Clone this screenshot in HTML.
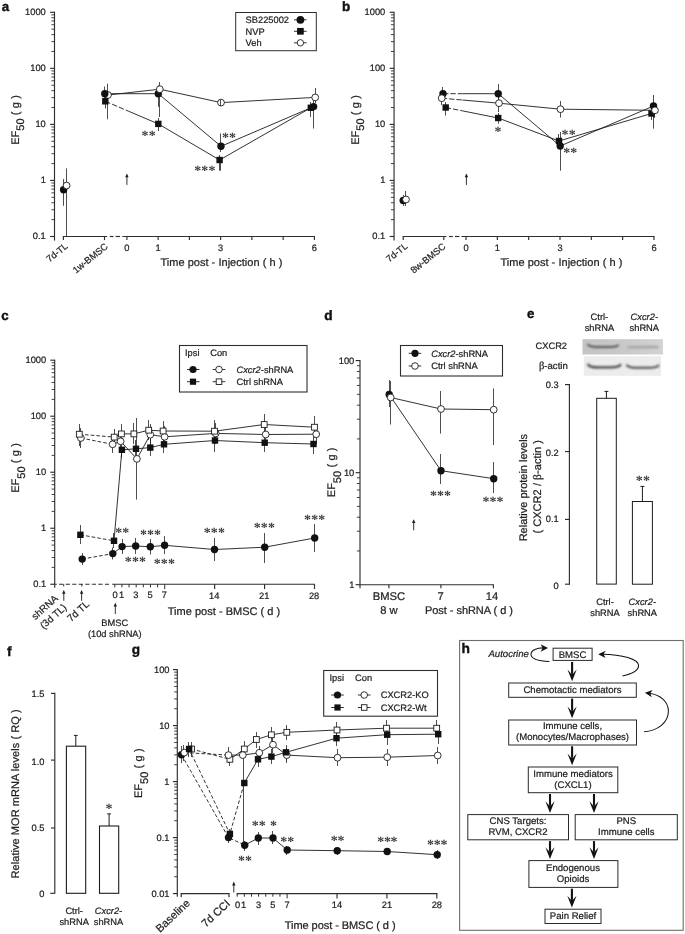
<!DOCTYPE html>
<html><head><meta charset="utf-8"><title>Figure</title>
<style>html,body{margin:0;padding:0;background:#fff}svg{display:block}text{stroke:#1e1e1e;stroke-width:.22px}</style></head>
<body>
<svg width="685" height="934" viewBox="0 0 685 934" font-family='"Liberation Sans", Arial, sans-serif' fill="#1e1e1e" text-rendering="geometricPrecision">
<line x1="54.5" y1="11.75" x2="54.5" y2="240.6" stroke="#2e2e2e" stroke-width="1.15"/>
<line x1="50.1" y1="236.5" x2="54.5" y2="236.5" stroke="#2e2e2e" stroke-width="1.15"/>
<text x="45.8" y="239.4" font-size="9.3" text-anchor="end">0.1</text>
<line x1="51.4" y1="219.63" x2="54.5" y2="219.63" stroke="#2e2e2e" stroke-width="0.9"/>
<line x1="51.4" y1="209.76" x2="54.5" y2="209.76" stroke="#2e2e2e" stroke-width="0.9"/>
<line x1="51.4" y1="202.75" x2="54.5" y2="202.75" stroke="#2e2e2e" stroke-width="0.9"/>
<line x1="51.4" y1="197.32" x2="54.5" y2="197.32" stroke="#2e2e2e" stroke-width="0.9"/>
<line x1="51.4" y1="192.88" x2="54.5" y2="192.88" stroke="#2e2e2e" stroke-width="0.9"/>
<line x1="51.4" y1="189.13" x2="54.5" y2="189.13" stroke="#2e2e2e" stroke-width="0.9"/>
<line x1="51.4" y1="185.88" x2="54.5" y2="185.88" stroke="#2e2e2e" stroke-width="0.9"/>
<line x1="51.4" y1="183.01" x2="54.5" y2="183.01" stroke="#2e2e2e" stroke-width="0.9"/>
<line x1="50.1" y1="180.45" x2="54.5" y2="180.45" stroke="#2e2e2e" stroke-width="1.15"/>
<text x="45.8" y="183.35" font-size="9.3" text-anchor="end">1</text>
<line x1="51.4" y1="163.58" x2="54.5" y2="163.58" stroke="#2e2e2e" stroke-width="0.9"/>
<line x1="51.4" y1="153.71" x2="54.5" y2="153.71" stroke="#2e2e2e" stroke-width="0.9"/>
<line x1="51.4" y1="146.7" x2="54.5" y2="146.7" stroke="#2e2e2e" stroke-width="0.9"/>
<line x1="51.4" y1="141.27" x2="54.5" y2="141.27" stroke="#2e2e2e" stroke-width="0.9"/>
<line x1="51.4" y1="136.83" x2="54.5" y2="136.83" stroke="#2e2e2e" stroke-width="0.9"/>
<line x1="51.4" y1="133.08" x2="54.5" y2="133.08" stroke="#2e2e2e" stroke-width="0.9"/>
<line x1="51.4" y1="129.83" x2="54.5" y2="129.83" stroke="#2e2e2e" stroke-width="0.9"/>
<line x1="51.4" y1="126.96" x2="54.5" y2="126.96" stroke="#2e2e2e" stroke-width="0.9"/>
<line x1="50.1" y1="124.4" x2="54.5" y2="124.4" stroke="#2e2e2e" stroke-width="1.15"/>
<text x="45.8" y="127.3" font-size="9.3" text-anchor="end">10</text>
<line x1="51.4" y1="107.53" x2="54.5" y2="107.53" stroke="#2e2e2e" stroke-width="0.9"/>
<line x1="51.4" y1="97.66" x2="54.5" y2="97.66" stroke="#2e2e2e" stroke-width="0.9"/>
<line x1="51.4" y1="90.65" x2="54.5" y2="90.65" stroke="#2e2e2e" stroke-width="0.9"/>
<line x1="51.4" y1="85.22" x2="54.5" y2="85.22" stroke="#2e2e2e" stroke-width="0.9"/>
<line x1="51.4" y1="80.78" x2="54.5" y2="80.78" stroke="#2e2e2e" stroke-width="0.9"/>
<line x1="51.4" y1="77.03" x2="54.5" y2="77.03" stroke="#2e2e2e" stroke-width="0.9"/>
<line x1="51.4" y1="73.78" x2="54.5" y2="73.78" stroke="#2e2e2e" stroke-width="0.9"/>
<line x1="51.4" y1="70.91" x2="54.5" y2="70.91" stroke="#2e2e2e" stroke-width="0.9"/>
<line x1="50.1" y1="68.35" x2="54.5" y2="68.35" stroke="#2e2e2e" stroke-width="1.15"/>
<text x="45.8" y="71.25" font-size="9.3" text-anchor="end">100</text>
<line x1="51.4" y1="51.48" x2="54.5" y2="51.48" stroke="#2e2e2e" stroke-width="0.9"/>
<line x1="51.4" y1="41.61" x2="54.5" y2="41.61" stroke="#2e2e2e" stroke-width="0.9"/>
<line x1="51.4" y1="34.6" x2="54.5" y2="34.6" stroke="#2e2e2e" stroke-width="0.9"/>
<line x1="51.4" y1="29.17" x2="54.5" y2="29.17" stroke="#2e2e2e" stroke-width="0.9"/>
<line x1="51.4" y1="24.73" x2="54.5" y2="24.73" stroke="#2e2e2e" stroke-width="0.9"/>
<line x1="51.4" y1="20.98" x2="54.5" y2="20.98" stroke="#2e2e2e" stroke-width="0.9"/>
<line x1="51.4" y1="17.73" x2="54.5" y2="17.73" stroke="#2e2e2e" stroke-width="0.9"/>
<line x1="51.4" y1="14.86" x2="54.5" y2="14.86" stroke="#2e2e2e" stroke-width="0.9"/>
<line x1="50.1" y1="12.3" x2="54.5" y2="12.3" stroke="#2e2e2e" stroke-width="1.15"/>
<text x="45.8" y="15.2" font-size="9.3" text-anchor="end">1000</text>
<line x1="62.85" y1="236.5" x2="107.1" y2="236.5" stroke="#2e2e2e" stroke-width="1.15"/>
<line x1="109.8" y1="236.5" x2="113.5" y2="236.5" stroke="#2e2e2e" stroke-width="1.15"/>
<line x1="115.6" y1="236.5" x2="120.1" y2="236.5" stroke="#2e2e2e" stroke-width="1.15"/>
<line x1="122.4" y1="236.5" x2="314.95" y2="236.5" stroke="#2e2e2e" stroke-width="1.15"/>
<line x1="63.4" y1="236.5" x2="63.4" y2="240.1" stroke="#2e2e2e" stroke-width="1.15"/>
<line x1="104.5" y1="236.5" x2="104.5" y2="240.1" stroke="#2e2e2e" stroke-width="1.15"/>
<line x1="126.9" y1="236.5" x2="126.9" y2="240.1" stroke="#2e2e2e" stroke-width="1.15"/>
<line x1="158.15" y1="236.5" x2="158.15" y2="240.1" stroke="#2e2e2e" stroke-width="1.15"/>
<line x1="189.4" y1="236.5" x2="189.4" y2="240.1" stroke="#2e2e2e" stroke-width="1.15"/>
<line x1="220.65" y1="236.5" x2="220.65" y2="240.1" stroke="#2e2e2e" stroke-width="1.15"/>
<line x1="251.9" y1="236.5" x2="251.9" y2="240.1" stroke="#2e2e2e" stroke-width="1.15"/>
<line x1="283.15" y1="236.5" x2="283.15" y2="240.1" stroke="#2e2e2e" stroke-width="1.15"/>
<line x1="314.4" y1="236.5" x2="314.4" y2="240.1" stroke="#2e2e2e" stroke-width="1.15"/>
<text x="126.9" y="250.8" font-size="9.3" text-anchor="middle">0</text>
<text x="158.15" y="250.8" font-size="9.3" text-anchor="middle">1</text>
<text x="220.65" y="250.8" font-size="9.3" text-anchor="middle">3</text>
<text x="314.4" y="250.8" font-size="9.3" text-anchor="middle">6</text>
<text font-size="9.3" text-anchor="end" transform="translate(68.4 247.3) rotate(-39)">7d-TL</text>
<text font-size="9.3" text-anchor="end" transform="translate(108.5 247.5) rotate(-39)">1w-BMSC</text>
<text x="160.4" y="266.3" font-size="11" textLength="122" lengthAdjust="spacing">Time post - Injection ( h )</text>
<text font-size="11" word-spacing="0.25" transform="translate(18.8 144.8) rotate(-90)">EF<tspan dy="5.5">50</tspan><tspan dy="-5.5"> ( g )</tspan></text>
<line x1="126.9" y1="184.9" x2="126.9" y2="175.68" stroke="#1c1c1c" stroke-width="0.9"/>
<path d="M126.9 173.4 L125.2 177.2 L128.6 177.2 Z" fill="#1c1c1c"/>
<text x="1.8" y="10.8" font-size="13.3" font-weight="bold" fill="#111" style="stroke:#111;stroke-width:.4px">a</text>
<line x1="63.5" y1="179" x2="63.5" y2="205.8" stroke="#222" stroke-width="0.8"/>
<line x1="66.5" y1="168.4" x2="66.5" y2="236" stroke="#222" stroke-width="0.8"/>
<line x1="104.5" y1="86.5" x2="104.5" y2="100.5" stroke="#222" stroke-width="0.8"/>
<line x1="105.5" y1="96" x2="105.5" y2="108.5" stroke="#222" stroke-width="0.8"/>
<line x1="107.5" y1="83.7" x2="107.5" y2="119.3" stroke="#222" stroke-width="0.8"/>
<line x1="158.5" y1="85.4" x2="158.5" y2="106.8" stroke="#222" stroke-width="0.8"/>
<line x1="159.5" y1="82" x2="159.5" y2="117" stroke="#222" stroke-width="0.8"/>
<line x1="158.5" y1="118" x2="158.5" y2="131" stroke="#222" stroke-width="0.8"/>
<line x1="220.5" y1="133.5" x2="220.5" y2="152" stroke="#222" stroke-width="0.8"/>
<line x1="219.5" y1="155" x2="219.5" y2="170.7" stroke="#222" stroke-width="0.8"/>
<line x1="220.5" y1="158" x2="220.5" y2="170.7" stroke="#222" stroke-width="0.8"/>
<line x1="220.5" y1="99.5" x2="220.5" y2="105.7" stroke="#222" stroke-width="0.8"/>
<line x1="313.5" y1="100" x2="313.5" y2="128.5" stroke="#222" stroke-width="0.8"/>
<line x1="310.5" y1="102" x2="310.5" y2="117" stroke="#222" stroke-width="0.8"/>
<line x1="315.5" y1="88" x2="315.5" y2="103" stroke="#222" stroke-width="0.8"/>
<polyline points="104.8,93.7 158.3,93.7 221,146.3 313.6,106.6" fill="none" stroke="#1c1c1c" stroke-width="0.9"/>
<polyline points="108,95 159.8,89.2 221,102.6 315.2,97.4" fill="none" stroke="#1c1c1c" stroke-width="0.9"/>
<polyline points="105.3,101.3 128.5,111.19" fill="none" stroke="#1c1c1c" stroke-width="0.9" stroke-dasharray="5.4 2"/>
<polyline points="128.5,111.19 158.3,123.9" fill="none" stroke="#1c1c1c" stroke-width="0.9"/>
<polyline points="158.3,123.9 219.6,160 310.8,107.8" fill="none" stroke="#1c1c1c" stroke-width="0.9"/>
<circle cx="108" cy="95" r="3.4" fill="#fff" stroke="#1c1c1c" stroke-width="0.9"/>
<circle cx="63.6" cy="189.7" r="3.6999999999999997" fill="#111"/>
<circle cx="104.8" cy="93.7" r="3.6999999999999997" fill="#111"/>
<circle cx="158.3" cy="93.7" r="3.6999999999999997" fill="#111"/>
<circle cx="221" cy="146.3" r="3.6999999999999997" fill="#111"/>
<circle cx="313.6" cy="106.6" r="3.6999999999999997" fill="#111"/>
<rect x="102.1" y="98.1" width="6.4" height="6.4" fill="#111"/>
<rect x="155.1" y="120.7" width="6.4" height="6.4" fill="#111"/>
<rect x="216.4" y="156.8" width="6.4" height="6.4" fill="#111"/>
<rect x="307.6" y="104.6" width="6.4" height="6.4" fill="#111"/>
<circle cx="66.6" cy="185.5" r="3.4" fill="#fff" stroke="#1c1c1c" stroke-width="0.9"/>
<circle cx="159.8" cy="89.2" r="3.4" fill="#fff" stroke="#1c1c1c" stroke-width="0.9"/>
<circle cx="221" cy="102.6" r="3.4" fill="#fff" stroke="#1c1c1c" stroke-width="0.9"/>
<circle cx="315.2" cy="97.4" r="3.4" fill="#fff" stroke="#1c1c1c" stroke-width="0.9"/>
<line x1="220.5" y1="100" x2="220.5" y2="106" stroke="#222" stroke-width="0.8"/>
<text x="141.6" y="139.5" font-size="14" font-weight="bold" font-family='"Liberation Serif", "Times New Roman", serif' fill="#3c3c3c" style="stroke:none" letter-spacing="0.1">**</text>
<text x="222" y="141.5" font-size="14" font-weight="bold" font-family='"Liberation Serif", "Times New Roman", serif' fill="#3c3c3c" style="stroke:none" letter-spacing="0.1">**</text>
<text x="194.2" y="175" font-size="14" font-weight="bold" font-family='"Liberation Serif", "Times New Roman", serif' fill="#3c3c3c" style="stroke:none" letter-spacing="0.1">***</text>
<rect x="235.7" y="12.5" width="80.6" height="38.2" fill="#fff" stroke="#2e2e2e" stroke-width="1"/>
<text x="245.6" y="23.2" font-size="9.3">SB225002</text>
<line x1="294" y1="19.8" x2="306.6" y2="19.8" stroke="#1c1c1c" stroke-width="0.9"/>
<circle cx="300.4" cy="19.8" r="3.9" fill="#111"/>
<text x="245.6" y="34.7" font-size="9.3">NVP</text>
<line x1="294" y1="31.3" x2="306.6" y2="31.3" stroke="#1c1c1c" stroke-width="0.9"/>
<rect x="297.05" y="27.95" width="6.7" height="6.7" fill="#111"/>
<text x="245.6" y="46.2" font-size="9.3">Veh</text>
<line x1="294" y1="42.8" x2="306.6" y2="42.8" stroke="#1c1c1c" stroke-width="0.9"/>
<circle cx="300.4" cy="42.8" r="3.2" fill="#fff" stroke="#1c1c1c" stroke-width="0.9"/>
<line x1="394.05" y1="11.75" x2="394.05" y2="240.6" stroke="#2e2e2e" stroke-width="1.15"/>
<line x1="389.65" y1="236.5" x2="394.05" y2="236.5" stroke="#2e2e2e" stroke-width="1.15"/>
<text x="385.3" y="239.4" font-size="9.3" text-anchor="end">0.1</text>
<line x1="390.95" y1="219.63" x2="394.05" y2="219.63" stroke="#2e2e2e" stroke-width="0.9"/>
<line x1="390.95" y1="209.76" x2="394.05" y2="209.76" stroke="#2e2e2e" stroke-width="0.9"/>
<line x1="390.95" y1="202.75" x2="394.05" y2="202.75" stroke="#2e2e2e" stroke-width="0.9"/>
<line x1="390.95" y1="197.32" x2="394.05" y2="197.32" stroke="#2e2e2e" stroke-width="0.9"/>
<line x1="390.95" y1="192.88" x2="394.05" y2="192.88" stroke="#2e2e2e" stroke-width="0.9"/>
<line x1="390.95" y1="189.13" x2="394.05" y2="189.13" stroke="#2e2e2e" stroke-width="0.9"/>
<line x1="390.95" y1="185.88" x2="394.05" y2="185.88" stroke="#2e2e2e" stroke-width="0.9"/>
<line x1="390.95" y1="183.01" x2="394.05" y2="183.01" stroke="#2e2e2e" stroke-width="0.9"/>
<line x1="389.65" y1="180.45" x2="394.05" y2="180.45" stroke="#2e2e2e" stroke-width="1.15"/>
<text x="385.3" y="183.35" font-size="9.3" text-anchor="end">1</text>
<line x1="390.95" y1="163.58" x2="394.05" y2="163.58" stroke="#2e2e2e" stroke-width="0.9"/>
<line x1="390.95" y1="153.71" x2="394.05" y2="153.71" stroke="#2e2e2e" stroke-width="0.9"/>
<line x1="390.95" y1="146.7" x2="394.05" y2="146.7" stroke="#2e2e2e" stroke-width="0.9"/>
<line x1="390.95" y1="141.27" x2="394.05" y2="141.27" stroke="#2e2e2e" stroke-width="0.9"/>
<line x1="390.95" y1="136.83" x2="394.05" y2="136.83" stroke="#2e2e2e" stroke-width="0.9"/>
<line x1="390.95" y1="133.08" x2="394.05" y2="133.08" stroke="#2e2e2e" stroke-width="0.9"/>
<line x1="390.95" y1="129.83" x2="394.05" y2="129.83" stroke="#2e2e2e" stroke-width="0.9"/>
<line x1="390.95" y1="126.96" x2="394.05" y2="126.96" stroke="#2e2e2e" stroke-width="0.9"/>
<line x1="389.65" y1="124.4" x2="394.05" y2="124.4" stroke="#2e2e2e" stroke-width="1.15"/>
<text x="385.3" y="127.3" font-size="9.3" text-anchor="end">10</text>
<line x1="390.95" y1="107.53" x2="394.05" y2="107.53" stroke="#2e2e2e" stroke-width="0.9"/>
<line x1="390.95" y1="97.66" x2="394.05" y2="97.66" stroke="#2e2e2e" stroke-width="0.9"/>
<line x1="390.95" y1="90.65" x2="394.05" y2="90.65" stroke="#2e2e2e" stroke-width="0.9"/>
<line x1="390.95" y1="85.22" x2="394.05" y2="85.22" stroke="#2e2e2e" stroke-width="0.9"/>
<line x1="390.95" y1="80.78" x2="394.05" y2="80.78" stroke="#2e2e2e" stroke-width="0.9"/>
<line x1="390.95" y1="77.03" x2="394.05" y2="77.03" stroke="#2e2e2e" stroke-width="0.9"/>
<line x1="390.95" y1="73.78" x2="394.05" y2="73.78" stroke="#2e2e2e" stroke-width="0.9"/>
<line x1="390.95" y1="70.91" x2="394.05" y2="70.91" stroke="#2e2e2e" stroke-width="0.9"/>
<line x1="389.65" y1="68.35" x2="394.05" y2="68.35" stroke="#2e2e2e" stroke-width="1.15"/>
<text x="385.3" y="71.25" font-size="9.3" text-anchor="end">100</text>
<line x1="390.95" y1="51.48" x2="394.05" y2="51.48" stroke="#2e2e2e" stroke-width="0.9"/>
<line x1="390.95" y1="41.61" x2="394.05" y2="41.61" stroke="#2e2e2e" stroke-width="0.9"/>
<line x1="390.95" y1="34.6" x2="394.05" y2="34.6" stroke="#2e2e2e" stroke-width="0.9"/>
<line x1="390.95" y1="29.17" x2="394.05" y2="29.17" stroke="#2e2e2e" stroke-width="0.9"/>
<line x1="390.95" y1="24.73" x2="394.05" y2="24.73" stroke="#2e2e2e" stroke-width="0.9"/>
<line x1="390.95" y1="20.98" x2="394.05" y2="20.98" stroke="#2e2e2e" stroke-width="0.9"/>
<line x1="390.95" y1="17.73" x2="394.05" y2="17.73" stroke="#2e2e2e" stroke-width="0.9"/>
<line x1="390.95" y1="14.86" x2="394.05" y2="14.86" stroke="#2e2e2e" stroke-width="0.9"/>
<line x1="389.65" y1="12.3" x2="394.05" y2="12.3" stroke="#2e2e2e" stroke-width="1.15"/>
<text x="385.3" y="15.2" font-size="9.3" text-anchor="end">1000</text>
<line x1="402.65" y1="236.5" x2="446.4" y2="236.5" stroke="#2e2e2e" stroke-width="1.15"/>
<line x1="449.1" y1="236.5" x2="452.8" y2="236.5" stroke="#2e2e2e" stroke-width="1.15"/>
<line x1="454.9" y1="236.5" x2="459.4" y2="236.5" stroke="#2e2e2e" stroke-width="1.15"/>
<line x1="461.5" y1="236.5" x2="654.53" y2="236.5" stroke="#2e2e2e" stroke-width="1.15"/>
<line x1="403.2" y1="236.5" x2="403.2" y2="240.1" stroke="#2e2e2e" stroke-width="1.15"/>
<line x1="443.8" y1="236.5" x2="443.8" y2="240.1" stroke="#2e2e2e" stroke-width="1.15"/>
<line x1="466" y1="236.5" x2="466" y2="240.1" stroke="#2e2e2e" stroke-width="1.15"/>
<line x1="497.33" y1="236.5" x2="497.33" y2="240.1" stroke="#2e2e2e" stroke-width="1.15"/>
<line x1="528.66" y1="236.5" x2="528.66" y2="240.1" stroke="#2e2e2e" stroke-width="1.15"/>
<line x1="559.99" y1="236.5" x2="559.99" y2="240.1" stroke="#2e2e2e" stroke-width="1.15"/>
<line x1="591.32" y1="236.5" x2="591.32" y2="240.1" stroke="#2e2e2e" stroke-width="1.15"/>
<line x1="622.65" y1="236.5" x2="622.65" y2="240.1" stroke="#2e2e2e" stroke-width="1.15"/>
<line x1="653.98" y1="236.5" x2="653.98" y2="240.1" stroke="#2e2e2e" stroke-width="1.15"/>
<text x="466" y="250.8" font-size="9.3" text-anchor="middle">0</text>
<text x="497.33" y="250.8" font-size="9.3" text-anchor="middle">1</text>
<text x="559.99" y="250.8" font-size="9.3" text-anchor="middle">3</text>
<text x="653.98" y="250.8" font-size="9.3" text-anchor="middle">6</text>
<text font-size="9.3" text-anchor="end" transform="translate(408.2 247.3) rotate(-39)">7d-TL</text>
<text font-size="9.3" text-anchor="end" transform="translate(446.3 247.5) rotate(-39)">8w-BMSC</text>
<text x="500.4" y="266.3" font-size="11" textLength="122" lengthAdjust="spacing">Time post - Injection ( h )</text>
<text font-size="11" word-spacing="0.25" transform="translate(358.8 144.8) rotate(-90)">EF<tspan dy="5.5">50</tspan><tspan dy="-5.5"> ( g )</tspan></text>
<line x1="466.4" y1="184.9" x2="466.4" y2="175.68" stroke="#1c1c1c" stroke-width="0.9"/>
<path d="M466.4 173.4 L464.7 177.2 L468.1 177.2 Z" fill="#1c1c1c"/>
<text x="342" y="10.9" font-size="13.5" font-weight="bold" fill="#111" style="stroke:#111;stroke-width:.4px">b</text>
<line x1="403.5" y1="195" x2="403.5" y2="206" stroke="#222" stroke-width="0.8"/>
<line x1="405.5" y1="191" x2="405.5" y2="206" stroke="#222" stroke-width="0.8"/>
<line x1="442.5" y1="87" x2="442.5" y2="100" stroke="#222" stroke-width="0.8"/>
<line x1="441.5" y1="92" x2="441.5" y2="105" stroke="#222" stroke-width="0.8"/>
<line x1="445.5" y1="102" x2="445.5" y2="115.5" stroke="#222" stroke-width="0.8"/>
<line x1="498.5" y1="84" x2="498.5" y2="102" stroke="#222" stroke-width="0.8"/>
<line x1="498.5" y1="96" x2="498.5" y2="112" stroke="#222" stroke-width="0.8"/>
<line x1="498.5" y1="113" x2="498.5" y2="123.7" stroke="#222" stroke-width="0.8"/>
<line x1="560.5" y1="132" x2="560.5" y2="170.7" stroke="#222" stroke-width="0.8"/>
<line x1="558.5" y1="134" x2="558.5" y2="148" stroke="#222" stroke-width="0.8"/>
<line x1="560.5" y1="101" x2="560.5" y2="117.5" stroke="#222" stroke-width="0.8"/>
<line x1="653.5" y1="95" x2="653.5" y2="128.7" stroke="#222" stroke-width="0.8"/>
<line x1="651.5" y1="107" x2="651.5" y2="120" stroke="#222" stroke-width="0.8"/>
<line x1="654.5" y1="103" x2="654.5" y2="118" stroke="#222" stroke-width="0.8"/>
<polyline points="443,93.7 462.5,93.7" fill="none" stroke="#1c1c1c" stroke-width="0.9" stroke-dasharray="5.4 2"/>
<polyline points="462.5,93.7 498.2,93.7" fill="none" stroke="#1c1c1c" stroke-width="0.9"/>
<polyline points="445.7,107.5 462.5,110.86" fill="none" stroke="#1c1c1c" stroke-width="0.9" stroke-dasharray="5.4 2"/>
<polyline points="462.5,110.86 498.2,118" fill="none" stroke="#1c1c1c" stroke-width="0.9"/>
<polyline points="441.7,98.2 462.5,100.02" fill="none" stroke="#1c1c1c" stroke-width="0.9" stroke-dasharray="5.4 2"/>
<polyline points="462.5,100.02 499,103.2" fill="none" stroke="#1c1c1c" stroke-width="0.9"/>
<polyline points="498.2,93.7 560.2,146 653.5,106" fill="none" stroke="#1c1c1c" stroke-width="0.9"/>
<polyline points="498.2,118 559,141 651.5,113.5" fill="none" stroke="#1c1c1c" stroke-width="0.9"/>
<polyline points="499,103.2 560.5,109.2 655,110.3" fill="none" stroke="#1c1c1c" stroke-width="0.9"/>
<circle cx="403.2" cy="200.5" r="3.6999999999999997" fill="#111"/>
<circle cx="443" cy="93.7" r="3.6999999999999997" fill="#111"/>
<circle cx="498.2" cy="93.7" r="3.6999999999999997" fill="#111"/>
<circle cx="560.2" cy="146" r="3.6999999999999997" fill="#111"/>
<circle cx="653.5" cy="106" r="3.6999999999999997" fill="#111"/>
<rect x="442.5" y="104.3" width="6.4" height="6.4" fill="#111"/>
<rect x="495" y="114.8" width="6.4" height="6.4" fill="#111"/>
<rect x="555.8" y="137.8" width="6.4" height="6.4" fill="#111"/>
<rect x="648.3" y="110.3" width="6.4" height="6.4" fill="#111"/>
<circle cx="406" cy="199.5" r="3.4" fill="#fff" stroke="#1c1c1c" stroke-width="0.9"/>
<circle cx="441.7" cy="98.2" r="3.4" fill="#fff" stroke="#1c1c1c" stroke-width="0.9"/>
<circle cx="499" cy="103.2" r="3.4" fill="#fff" stroke="#1c1c1c" stroke-width="0.9"/>
<circle cx="560.5" cy="109.2" r="3.4" fill="#fff" stroke="#1c1c1c" stroke-width="0.9"/>
<circle cx="655" cy="110.3" r="3.4" fill="#fff" stroke="#1c1c1c" stroke-width="0.9"/>
<text x="494.5" y="136" font-size="14" font-weight="bold" font-family='"Liberation Serif", "Times New Roman", serif' fill="#3c3c3c" style="stroke:none" letter-spacing="0.1">*</text>
<text x="561.6" y="138.5" font-size="14" font-weight="bold" font-family='"Liberation Serif", "Times New Roman", serif' fill="#3c3c3c" style="stroke:none" letter-spacing="0.1">**</text>
<text x="563.2" y="156.5" font-size="14" font-weight="bold" font-family='"Liberation Serif", "Times New Roman", serif' fill="#3c3c3c" style="stroke:none" letter-spacing="0.1">**</text>
<text x="1.2" y="320" font-size="13.3" font-weight="bold" fill="#111" style="stroke:#111;stroke-width:.4px">c</text>
<line x1="54.7" y1="359.65" x2="54.7" y2="587.65" stroke="#2e2e2e" stroke-width="1.15"/>
<line x1="50.3" y1="584.25" x2="54.7" y2="584.25" stroke="#2e2e2e" stroke-width="1.15"/>
<text x="46.2" y="587.15" font-size="9.3" text-anchor="end">0.1</text>
<line x1="51.6" y1="567.39" x2="54.7" y2="567.39" stroke="#2e2e2e" stroke-width="0.9"/>
<line x1="51.6" y1="557.53" x2="54.7" y2="557.53" stroke="#2e2e2e" stroke-width="0.9"/>
<line x1="51.6" y1="550.53" x2="54.7" y2="550.53" stroke="#2e2e2e" stroke-width="0.9"/>
<line x1="51.6" y1="545.1" x2="54.7" y2="545.1" stroke="#2e2e2e" stroke-width="0.9"/>
<line x1="51.6" y1="540.66" x2="54.7" y2="540.66" stroke="#2e2e2e" stroke-width="0.9"/>
<line x1="51.6" y1="536.91" x2="54.7" y2="536.91" stroke="#2e2e2e" stroke-width="0.9"/>
<line x1="51.6" y1="533.67" x2="54.7" y2="533.67" stroke="#2e2e2e" stroke-width="0.9"/>
<line x1="51.6" y1="530.8" x2="54.7" y2="530.8" stroke="#2e2e2e" stroke-width="0.9"/>
<line x1="50.3" y1="528.24" x2="54.7" y2="528.24" stroke="#2e2e2e" stroke-width="1.15"/>
<text x="46.2" y="531.14" font-size="9.3" text-anchor="end">1</text>
<line x1="51.6" y1="511.38" x2="54.7" y2="511.38" stroke="#2e2e2e" stroke-width="0.9"/>
<line x1="51.6" y1="501.51" x2="54.7" y2="501.51" stroke="#2e2e2e" stroke-width="0.9"/>
<line x1="51.6" y1="494.51" x2="54.7" y2="494.51" stroke="#2e2e2e" stroke-width="0.9"/>
<line x1="51.6" y1="489.09" x2="54.7" y2="489.09" stroke="#2e2e2e" stroke-width="0.9"/>
<line x1="51.6" y1="484.65" x2="54.7" y2="484.65" stroke="#2e2e2e" stroke-width="0.9"/>
<line x1="51.6" y1="480.9" x2="54.7" y2="480.9" stroke="#2e2e2e" stroke-width="0.9"/>
<line x1="51.6" y1="477.65" x2="54.7" y2="477.65" stroke="#2e2e2e" stroke-width="0.9"/>
<line x1="51.6" y1="474.79" x2="54.7" y2="474.79" stroke="#2e2e2e" stroke-width="0.9"/>
<line x1="50.3" y1="472.23" x2="54.7" y2="472.23" stroke="#2e2e2e" stroke-width="1.15"/>
<text x="46.2" y="475.12" font-size="9.3" text-anchor="end">10</text>
<line x1="51.6" y1="455.36" x2="54.7" y2="455.36" stroke="#2e2e2e" stroke-width="0.9"/>
<line x1="51.6" y1="445.5" x2="54.7" y2="445.5" stroke="#2e2e2e" stroke-width="0.9"/>
<line x1="51.6" y1="438.5" x2="54.7" y2="438.5" stroke="#2e2e2e" stroke-width="0.9"/>
<line x1="51.6" y1="433.07" x2="54.7" y2="433.07" stroke="#2e2e2e" stroke-width="0.9"/>
<line x1="51.6" y1="428.64" x2="54.7" y2="428.64" stroke="#2e2e2e" stroke-width="0.9"/>
<line x1="51.6" y1="424.89" x2="54.7" y2="424.89" stroke="#2e2e2e" stroke-width="0.9"/>
<line x1="51.6" y1="421.64" x2="54.7" y2="421.64" stroke="#2e2e2e" stroke-width="0.9"/>
<line x1="51.6" y1="418.78" x2="54.7" y2="418.78" stroke="#2e2e2e" stroke-width="0.9"/>
<line x1="50.3" y1="416.21" x2="54.7" y2="416.21" stroke="#2e2e2e" stroke-width="1.15"/>
<text x="46.2" y="419.11" font-size="9.3" text-anchor="end">100</text>
<line x1="51.6" y1="399.35" x2="54.7" y2="399.35" stroke="#2e2e2e" stroke-width="0.9"/>
<line x1="51.6" y1="389.49" x2="54.7" y2="389.49" stroke="#2e2e2e" stroke-width="0.9"/>
<line x1="51.6" y1="382.49" x2="54.7" y2="382.49" stroke="#2e2e2e" stroke-width="0.9"/>
<line x1="51.6" y1="377.06" x2="54.7" y2="377.06" stroke="#2e2e2e" stroke-width="0.9"/>
<line x1="51.6" y1="372.63" x2="54.7" y2="372.63" stroke="#2e2e2e" stroke-width="0.9"/>
<line x1="51.6" y1="368.88" x2="54.7" y2="368.88" stroke="#2e2e2e" stroke-width="0.9"/>
<line x1="51.6" y1="365.63" x2="54.7" y2="365.63" stroke="#2e2e2e" stroke-width="0.9"/>
<line x1="51.6" y1="362.76" x2="54.7" y2="362.76" stroke="#2e2e2e" stroke-width="0.9"/>
<line x1="50.3" y1="360.2" x2="54.7" y2="360.2" stroke="#2e2e2e" stroke-width="1.15"/>
<text x="46.2" y="363.1" font-size="9.3" text-anchor="end">1000</text>
<line x1="54.7" y1="584.25" x2="109.1" y2="584.25" stroke="#2e2e2e" stroke-width="1.15" stroke-dasharray="4.2 2.34" stroke-dashoffset="2.1"/>
<line x1="112.2" y1="584.25" x2="315.05" y2="584.25" stroke="#2e2e2e" stroke-width="1.15"/>
<line x1="114.8" y1="584.25" x2="114.8" y2="587.35" stroke="#2e2e2e" stroke-width="1.0"/>
<line x1="121.93" y1="584.25" x2="121.93" y2="587.35" stroke="#2e2e2e" stroke-width="1.0"/>
<line x1="129.06" y1="584.25" x2="129.06" y2="587.35" stroke="#2e2e2e" stroke-width="1.0"/>
<line x1="136.2" y1="584.25" x2="136.2" y2="587.35" stroke="#2e2e2e" stroke-width="1.0"/>
<line x1="143.33" y1="584.25" x2="143.33" y2="587.35" stroke="#2e2e2e" stroke-width="1.0"/>
<line x1="150.46" y1="584.25" x2="150.46" y2="587.35" stroke="#2e2e2e" stroke-width="1.0"/>
<line x1="157.59" y1="584.25" x2="157.59" y2="587.35" stroke="#2e2e2e" stroke-width="1.0"/>
<line x1="164.72" y1="584.25" x2="164.72" y2="589.05" stroke="#2e2e2e" stroke-width="1.0"/>
<line x1="214.65" y1="584.25" x2="214.65" y2="589.05" stroke="#2e2e2e" stroke-width="1.15"/>
<line x1="264.57" y1="584.25" x2="264.57" y2="589.05" stroke="#2e2e2e" stroke-width="1.15"/>
<line x1="314.5" y1="584.25" x2="314.5" y2="589.05" stroke="#2e2e2e" stroke-width="1.15"/>
<line x1="63.7" y1="584.25" x2="63.7" y2="586.45" stroke="#2e2e2e" stroke-width="1.0"/>
<line x1="81.8" y1="584.25" x2="81.8" y2="586.45" stroke="#2e2e2e" stroke-width="1.0"/>
<text x="115.2" y="598.2" font-size="9.3" text-anchor="middle">0</text>
<text x="121.53" y="598.2" font-size="9.3" text-anchor="middle">1</text>
<text x="135.8" y="598.2" font-size="9.3" text-anchor="middle">3</text>
<text x="150.06" y="598.2" font-size="9.3" text-anchor="middle">5</text>
<text x="164.32" y="598.2" font-size="9.3" text-anchor="middle">7</text>
<text x="214.25" y="598.8" font-size="9.3" text-anchor="middle">14</text>
<text x="264.17" y="598.8" font-size="9.3" text-anchor="middle">21</text>
<text x="314.1" y="598.8" font-size="9.3" text-anchor="middle">28</text>
<text x="224" y="615" font-size="11" text-anchor="middle" textLength="112.4" lengthAdjust="spacing">Time post - BMSC ( d )</text>
<text font-size="11" word-spacing="0.25" transform="translate(19 492.8) rotate(-90)">EF<tspan dy="5.5">50</tspan><tspan dy="-5.5"> ( g )</tspan></text>
<line x1="63.8" y1="600.8" x2="63.8" y2="592.18" stroke="#1c1c1c" stroke-width="0.9"/>
<path d="M63.8 589.9 L62.1 593.7 L65.5 593.7 Z" fill="#1c1c1c"/>
<line x1="81.6" y1="600.8" x2="81.6" y2="592.18" stroke="#1c1c1c" stroke-width="0.9"/>
<path d="M81.6 589.9 L79.9 593.7 L83.3 593.7 Z" fill="#1c1c1c"/>
<line x1="115.3" y1="614" x2="115.3" y2="604.98" stroke="#1c1c1c" stroke-width="0.9"/>
<path d="M115.3 602.7 L113.6 606.5 L117 606.5 Z" fill="#1c1c1c"/>
<text font-size="9.9" text-anchor="end" transform="translate(58.6 599.3) rotate(-42)">shRNA</text>
<text font-size="9.9" text-anchor="end" transform="translate(67.2 608.3) rotate(-42)">(3d TL)</text>
<text font-size="10.1" text-anchor="end" transform="translate(90 605) rotate(-42)">7d TL</text>
<text x="114.8" y="625.7" font-size="9.3" text-anchor="middle">BMSC</text>
<text x="114.8" y="636.8" font-size="9.3" text-anchor="middle">(10d shRNA)</text>
<line x1="79.5" y1="424" x2="79.5" y2="446" stroke="#222" stroke-width="0.8"/>
<line x1="80.5" y1="428" x2="80.5" y2="448" stroke="#222" stroke-width="0.8"/>
<line x1="80.5" y1="525" x2="80.5" y2="544" stroke="#222" stroke-width="0.8"/>
<line x1="82.5" y1="553" x2="82.5" y2="565" stroke="#222" stroke-width="0.8"/>
<line x1="114.5" y1="429" x2="114.5" y2="446" stroke="#222" stroke-width="0.8"/>
<line x1="112.5" y1="436" x2="112.5" y2="453" stroke="#222" stroke-width="0.8"/>
<line x1="113.5" y1="533" x2="113.5" y2="548" stroke="#222" stroke-width="0.8"/>
<line x1="112.5" y1="547.5" x2="112.5" y2="559.5" stroke="#222" stroke-width="0.8"/>
<line x1="121.5" y1="424" x2="121.5" y2="444" stroke="#222" stroke-width="0.8"/>
<line x1="120.5" y1="431" x2="120.5" y2="451" stroke="#222" stroke-width="0.8"/>
<line x1="121.5" y1="441" x2="121.5" y2="458" stroke="#222" stroke-width="0.8"/>
<line x1="122.5" y1="539" x2="122.5" y2="554" stroke="#222" stroke-width="0.8"/>
<line x1="133.5" y1="423" x2="133.5" y2="444" stroke="#222" stroke-width="0.8"/>
<line x1="136.5" y1="418" x2="136.5" y2="499.6" stroke="#222" stroke-width="0.8"/>
<line x1="135.5" y1="440" x2="135.5" y2="458" stroke="#222" stroke-width="0.8"/>
<line x1="135.5" y1="538" x2="135.5" y2="554" stroke="#222" stroke-width="0.8"/>
<line x1="148.5" y1="420" x2="148.5" y2="440" stroke="#222" stroke-width="0.8"/>
<line x1="150.5" y1="424" x2="150.5" y2="445" stroke="#222" stroke-width="0.8"/>
<line x1="150.5" y1="439" x2="150.5" y2="456" stroke="#222" stroke-width="0.8"/>
<line x1="150.5" y1="539" x2="150.5" y2="554.5" stroke="#222" stroke-width="0.8"/>
<line x1="163.5" y1="421" x2="163.5" y2="441" stroke="#222" stroke-width="0.8"/>
<line x1="164.5" y1="426" x2="164.5" y2="447" stroke="#222" stroke-width="0.8"/>
<line x1="163.5" y1="436" x2="163.5" y2="453" stroke="#222" stroke-width="0.8"/>
<line x1="164.5" y1="536" x2="164.5" y2="554" stroke="#222" stroke-width="0.8"/>
<line x1="214.5" y1="420" x2="214.5" y2="442" stroke="#222" stroke-width="0.8"/>
<line x1="215.5" y1="423" x2="215.5" y2="444" stroke="#222" stroke-width="0.8"/>
<line x1="214.5" y1="431" x2="214.5" y2="452" stroke="#222" stroke-width="0.8"/>
<line x1="214.5" y1="538" x2="214.5" y2="561" stroke="#222" stroke-width="0.8"/>
<line x1="264.5" y1="414" x2="264.5" y2="435" stroke="#222" stroke-width="0.8"/>
<line x1="265.5" y1="424" x2="265.5" y2="445" stroke="#222" stroke-width="0.8"/>
<line x1="264.5" y1="433" x2="264.5" y2="452" stroke="#222" stroke-width="0.8"/>
<line x1="264.5" y1="533" x2="264.5" y2="563" stroke="#222" stroke-width="0.8"/>
<line x1="314.5" y1="416" x2="314.5" y2="438" stroke="#222" stroke-width="0.8"/>
<line x1="316.5" y1="424" x2="316.5" y2="444" stroke="#222" stroke-width="0.8"/>
<line x1="313.5" y1="434" x2="313.5" y2="454" stroke="#222" stroke-width="0.8"/>
<line x1="314.5" y1="524" x2="314.5" y2="552" stroke="#222" stroke-width="0.8"/>
<polyline points="79.3,434.2 114.2,437.1" fill="none" stroke="#1c1c1c" stroke-width="0.9" stroke-dasharray="3.6 2.1"/>
<polyline points="114.2,437.1 121.4,433.9 133.9,433.9 148.7,430.2 163.1,431 214.5,431.2 264.2,424.5 314.5,427.2" fill="none" stroke="#1c1c1c" stroke-width="0.9"/>
<polyline points="80.9,438 112.6,444.3" fill="none" stroke="#1c1c1c" stroke-width="0.9" stroke-dasharray="3.6 2.1"/>
<polyline points="112.6,444.3 120.6,441.3 136.9,458.9 150.3,434.7 164.6,436.8 215.7,433.4 265.7,434.5 316.2,434.2" fill="none" stroke="#1c1c1c" stroke-width="0.9"/>
<polyline points="80.4,534.8 114,540.8" fill="none" stroke="#1c1c1c" stroke-width="0.9" stroke-dasharray="3.6 2.1"/>
<polyline points="114,540.8 121.9,449.8 136,448.8 150.3,447.6 164,444.3 215,440.5 264.7,442.7 313.5,444" fill="none" stroke="#1c1c1c" stroke-width="0.9"/>
<polyline points="82.2,559.1 112.8,553.6" fill="none" stroke="#1c1c1c" stroke-width="0.9" stroke-dasharray="3.6 2.1"/>
<polyline points="112.8,553.6 122.1,546.6 135.7,546 150.3,546.8 164.6,545.3 214.5,549.5 264.7,547.2 314.7,538" fill="none" stroke="#1c1c1c" stroke-width="0.9"/>
<circle cx="80.9" cy="438" r="3.4" fill="#fff" stroke="#1c1c1c" stroke-width="0.9"/>
<circle cx="112.6" cy="444.3" r="3.4" fill="#fff" stroke="#1c1c1c" stroke-width="0.9"/>
<circle cx="120.6" cy="441.3" r="3.4" fill="#fff" stroke="#1c1c1c" stroke-width="0.9"/>
<circle cx="136.9" cy="458.9" r="3.4" fill="#fff" stroke="#1c1c1c" stroke-width="0.9"/>
<circle cx="150.3" cy="434.7" r="3.4" fill="#fff" stroke="#1c1c1c" stroke-width="0.9"/>
<circle cx="164.6" cy="436.8" r="3.4" fill="#fff" stroke="#1c1c1c" stroke-width="0.9"/>
<circle cx="215.7" cy="433.4" r="3.4" fill="#fff" stroke="#1c1c1c" stroke-width="0.9"/>
<circle cx="265.7" cy="434.5" r="3.4" fill="#fff" stroke="#1c1c1c" stroke-width="0.9"/>
<circle cx="316.2" cy="434.2" r="3.4" fill="#fff" stroke="#1c1c1c" stroke-width="0.9"/>
<circle cx="82.2" cy="559.1" r="3.6999999999999997" fill="#111"/>
<circle cx="112.8" cy="553.6" r="3.6999999999999997" fill="#111"/>
<circle cx="122.1" cy="546.6" r="3.6999999999999997" fill="#111"/>
<circle cx="135.7" cy="546" r="3.6999999999999997" fill="#111"/>
<circle cx="150.3" cy="546.8" r="3.6999999999999997" fill="#111"/>
<circle cx="164.6" cy="545.3" r="3.6999999999999997" fill="#111"/>
<circle cx="214.5" cy="549.5" r="3.6999999999999997" fill="#111"/>
<circle cx="264.7" cy="547.2" r="3.6999999999999997" fill="#111"/>
<circle cx="314.7" cy="538" r="3.6999999999999997" fill="#111"/>
<rect x="77.2" y="531.6" width="6.4" height="6.4" fill="#111"/>
<rect x="110.8" y="537.6" width="6.4" height="6.4" fill="#111"/>
<rect x="118.7" y="446.6" width="6.4" height="6.4" fill="#111"/>
<rect x="132.8" y="445.6" width="6.4" height="6.4" fill="#111"/>
<rect x="147.1" y="444.4" width="6.4" height="6.4" fill="#111"/>
<rect x="160.8" y="441.1" width="6.4" height="6.4" fill="#111"/>
<rect x="211.8" y="437.3" width="6.4" height="6.4" fill="#111"/>
<rect x="261.5" y="439.5" width="6.4" height="6.4" fill="#111"/>
<rect x="310.3" y="440.8" width="6.4" height="6.4" fill="#111"/>
<rect x="76.4" y="431.3" width="5.800000000000001" height="5.800000000000001" fill="#fff" stroke="#1c1c1c" stroke-width="0.9"/>
<rect x="111.3" y="434.2" width="5.800000000000001" height="5.800000000000001" fill="#fff" stroke="#1c1c1c" stroke-width="0.9"/>
<rect x="118.5" y="431" width="5.800000000000001" height="5.800000000000001" fill="#fff" stroke="#1c1c1c" stroke-width="0.9"/>
<rect x="131" y="431" width="5.800000000000001" height="5.800000000000001" fill="#fff" stroke="#1c1c1c" stroke-width="0.9"/>
<rect x="145.8" y="427.3" width="5.800000000000001" height="5.800000000000001" fill="#fff" stroke="#1c1c1c" stroke-width="0.9"/>
<rect x="160.2" y="428.1" width="5.800000000000001" height="5.800000000000001" fill="#fff" stroke="#1c1c1c" stroke-width="0.9"/>
<rect x="211.6" y="428.3" width="5.800000000000001" height="5.800000000000001" fill="#fff" stroke="#1c1c1c" stroke-width="0.9"/>
<rect x="261.3" y="421.6" width="5.800000000000001" height="5.800000000000001" fill="#fff" stroke="#1c1c1c" stroke-width="0.9"/>
<rect x="311.6" y="424.3" width="5.800000000000001" height="5.800000000000001" fill="#fff" stroke="#1c1c1c" stroke-width="0.9"/>
<text x="115.2" y="537.2" font-size="14" font-weight="bold" font-family='"Liberation Serif", "Times New Roman", serif' fill="#3c3c3c" style="stroke:none" letter-spacing="0.1">**</text>
<text x="139.9" y="539.2" font-size="14" font-weight="bold" font-family='"Liberation Serif", "Times New Roman", serif' fill="#3c3c3c" style="stroke:none" letter-spacing="0.1">***</text>
<text x="124.8" y="566.2" font-size="14" font-weight="bold" font-family='"Liberation Serif", "Times New Roman", serif' fill="#3c3c3c" style="stroke:none" letter-spacing="0.1">***</text>
<text x="153.7" y="567.5" font-size="14" font-weight="bold" font-family='"Liberation Serif", "Times New Roman", serif' fill="#3c3c3c" style="stroke:none" letter-spacing="0.1">***</text>
<text x="203.7" y="536.7" font-size="14" font-weight="bold" font-family='"Liberation Serif", "Times New Roman", serif' fill="#3c3c3c" style="stroke:none" letter-spacing="0.1">***</text>
<text x="253.7" y="531.8" font-size="14" font-weight="bold" font-family='"Liberation Serif", "Times New Roman", serif' fill="#3c3c3c" style="stroke:none" letter-spacing="0.1">***</text>
<text x="304.1" y="524" font-size="14" font-weight="bold" font-family='"Liberation Serif", "Times New Roman", serif' fill="#3c3c3c" style="stroke:none" letter-spacing="0.1">***</text>
<rect x="179.5" y="345.5" width="127.5" height="46.5" fill="#fff" stroke="#2e2e2e" stroke-width="1.1"/>
<text x="185" y="355.8" font-size="9.3">Ipsi</text>
<text x="210.2" y="355.8" font-size="9.3">Con</text>
<line x1="187" y1="369.5" x2="199.5" y2="369.5" stroke="#1c1c1c" stroke-width="0.9"/>
<line x1="212.7" y1="369.5" x2="225.3" y2="369.5" stroke="#1c1c1c" stroke-width="0.9"/>
<circle cx="193" cy="369.5" r="3.5999999999999996" fill="#111"/>
<circle cx="219" cy="369.5" r="3.3" fill="#fff" stroke="#1c1c1c" stroke-width="0.9"/>
<text x="236.5" y="372.8" font-size="9.3"><tspan font-style="italic">Cxcr2</tspan>-shRNA</text>
<line x1="187" y1="381.7" x2="199.5" y2="381.7" stroke="#1c1c1c" stroke-width="0.9"/>
<line x1="212.7" y1="381.7" x2="225.3" y2="381.7" stroke="#1c1c1c" stroke-width="0.9"/>
<rect x="189.9" y="378.6" width="6.2" height="6.2" fill="#111"/>
<rect x="216.2" y="378.9" width="5.6000000000000005" height="5.6000000000000005" fill="#fff" stroke="#1c1c1c" stroke-width="0.9"/>
<text x="236.5" y="385" font-size="9.3">Ctrl shRNA</text>
<text x="324.2" y="320.3" font-size="13.7" font-weight="bold" fill="#111" style="stroke:#111;stroke-width:.4px">d</text>
<line x1="360" y1="360.05" x2="360" y2="588.3" stroke="#2e2e2e" stroke-width="1.15"/>
<line x1="355.6" y1="584.7" x2="360" y2="584.7" stroke="#2e2e2e" stroke-width="1.15"/>
<text x="354.3" y="587.6" font-size="9.3" text-anchor="end">1</text>
<line x1="356.9" y1="550.97" x2="360" y2="550.97" stroke="#2e2e2e" stroke-width="0.9"/>
<line x1="356.9" y1="531.24" x2="360" y2="531.24" stroke="#2e2e2e" stroke-width="0.9"/>
<line x1="356.9" y1="517.24" x2="360" y2="517.24" stroke="#2e2e2e" stroke-width="0.9"/>
<line x1="356.9" y1="506.38" x2="360" y2="506.38" stroke="#2e2e2e" stroke-width="0.9"/>
<line x1="356.9" y1="497.51" x2="360" y2="497.51" stroke="#2e2e2e" stroke-width="0.9"/>
<line x1="356.9" y1="490.01" x2="360" y2="490.01" stroke="#2e2e2e" stroke-width="0.9"/>
<line x1="356.9" y1="483.51" x2="360" y2="483.51" stroke="#2e2e2e" stroke-width="0.9"/>
<line x1="356.9" y1="477.78" x2="360" y2="477.78" stroke="#2e2e2e" stroke-width="0.9"/>
<line x1="355.6" y1="472.65" x2="360" y2="472.65" stroke="#2e2e2e" stroke-width="1.15"/>
<text x="354.3" y="475.55" font-size="9.3" text-anchor="end">10</text>
<line x1="356.9" y1="438.92" x2="360" y2="438.92" stroke="#2e2e2e" stroke-width="0.9"/>
<line x1="356.9" y1="419.19" x2="360" y2="419.19" stroke="#2e2e2e" stroke-width="0.9"/>
<line x1="356.9" y1="405.19" x2="360" y2="405.19" stroke="#2e2e2e" stroke-width="0.9"/>
<line x1="356.9" y1="394.33" x2="360" y2="394.33" stroke="#2e2e2e" stroke-width="0.9"/>
<line x1="356.9" y1="385.46" x2="360" y2="385.46" stroke="#2e2e2e" stroke-width="0.9"/>
<line x1="356.9" y1="377.96" x2="360" y2="377.96" stroke="#2e2e2e" stroke-width="0.9"/>
<line x1="356.9" y1="371.46" x2="360" y2="371.46" stroke="#2e2e2e" stroke-width="0.9"/>
<line x1="356.9" y1="365.73" x2="360" y2="365.73" stroke="#2e2e2e" stroke-width="0.9"/>
<line x1="355.6" y1="360.6" x2="360" y2="360.6" stroke="#2e2e2e" stroke-width="1.15"/>
<text x="354.3" y="363.5" font-size="9.3" text-anchor="end">100</text>
<line x1="360" y1="584.7" x2="493.9" y2="584.7" stroke="#2e2e2e" stroke-width="1.15"/>
<line x1="388.9" y1="584.7" x2="388.9" y2="588.3" stroke="#2e2e2e" stroke-width="1.15"/>
<line x1="440.9" y1="584.7" x2="440.9" y2="588.3" stroke="#2e2e2e" stroke-width="1.15"/>
<line x1="493.4" y1="584.7" x2="493.4" y2="588.3" stroke="#2e2e2e" stroke-width="1.15"/>
<text x="388.9" y="600.3" font-size="11.2" text-anchor="middle">BMSC</text>
<text x="388.9" y="614.2" font-size="11.2" text-anchor="middle">8 w</text>
<text x="440.7" y="600.3" font-size="11.2" text-anchor="middle">7</text>
<text x="492" y="600.3" font-size="11.2" text-anchor="middle">14</text>
<text x="424.9" y="614.2" font-size="11" textLength="88" lengthAdjust="spacing">Post - shRNA ( d )</text>
<text font-size="11" word-spacing="0.25" transform="translate(335 497.2) rotate(-90)">EF<tspan dy="5.5">50</tspan><tspan dy="-5.5"> ( g )</tspan></text>
<line x1="413.7" y1="530.3" x2="413.7" y2="521.58" stroke="#1c1c1c" stroke-width="0.9"/>
<path d="M413.7 519.3 L412 523.1 L415.4 523.1 Z" fill="#1c1c1c"/>
<line x1="389.5" y1="380" x2="389.5" y2="407" stroke="#222" stroke-width="0.8"/>
<line x1="390.5" y1="381" x2="390.5" y2="424.5" stroke="#222" stroke-width="0.8"/>
<line x1="440.5" y1="391" x2="440.5" y2="433.6" stroke="#222" stroke-width="0.8"/>
<line x1="440.5" y1="454" x2="440.5" y2="484" stroke="#222" stroke-width="0.8"/>
<line x1="493.5" y1="388.5" x2="493.5" y2="445" stroke="#222" stroke-width="0.8"/>
<line x1="493.5" y1="462" x2="493.5" y2="493" stroke="#222" stroke-width="0.8"/>
<polyline points="389.2,394.5 441,470.7 493.7,478.7" fill="none" stroke="#1c1c1c" stroke-width="0.9"/>
<polyline points="390.7,397.5 441,409 493.7,409.7" fill="none" stroke="#1c1c1c" stroke-width="0.9"/>
<circle cx="389.2" cy="394.5" r="3.6999999999999997" fill="#111"/>
<circle cx="441" cy="470.7" r="3.6999999999999997" fill="#111"/>
<circle cx="493.7" cy="478.7" r="3.6999999999999997" fill="#111"/>
<circle cx="390.7" cy="397.5" r="3.4" fill="#fff" stroke="#1c1c1c" stroke-width="0.9"/>
<circle cx="441" cy="409" r="3.4" fill="#fff" stroke="#1c1c1c" stroke-width="0.9"/>
<circle cx="493.7" cy="409.7" r="3.4" fill="#fff" stroke="#1c1c1c" stroke-width="0.9"/>
<text x="429.9" y="499.8" font-size="14" font-weight="bold" font-family='"Liberation Serif", "Times New Roman", serif' fill="#3c3c3c" style="stroke:none" letter-spacing="0.1">***</text>
<text x="482.4" y="506.4" font-size="14" font-weight="bold" font-family='"Liberation Serif", "Times New Roman", serif' fill="#3c3c3c" style="stroke:none" letter-spacing="0.1">***</text>
<rect x="400.5" y="345.5" width="102" height="30.5" fill="#fff" stroke="#2e2e2e" stroke-width="1.1"/>
<line x1="408.7" y1="353.3" x2="421.3" y2="353.3" stroke="#1c1c1c" stroke-width="0.9"/>
<circle cx="415" cy="353.3" r="3.5999999999999996" fill="#111"/>
<text x="431.2" y="356.6" font-size="9.3"><tspan font-style="italic">Cxcr2</tspan>-shRNA</text>
<line x1="408.7" y1="366" x2="421.3" y2="366" stroke="#1c1c1c" stroke-width="0.9"/>
<circle cx="415" cy="366" r="3.3" fill="#fff" stroke="#1c1c1c" stroke-width="0.9"/>
<text x="431.2" y="369.3" font-size="9.3">Ctrl shRNA</text>
<text x="527" y="318" font-size="13.3" font-weight="bold" fill="#111" style="stroke:#111;stroke-width:.4px">e</text>
<text x="599.4" y="319.7" font-size="9.3" text-anchor="middle">Ctrl-</text>
<text x="599.4" y="330.6" font-size="9.3" text-anchor="middle">shRNA</text>
<text x="644.3" y="319.7" font-size="9.3" text-anchor="middle" font-style="italic">Cxcr2-</text>
<text x="644.3" y="330.6" font-size="9.3" text-anchor="middle">shRNA</text>
<defs><filter id="bl" x="-10%" y="-150%" width="120%" height="400%"><feGaussianBlur stdDeviation="0.85"/></filter><filter id="bl2" x="-5%" y="-10%" width="110%" height="120%"><feGaussianBlur stdDeviation="0.45"/></filter><linearGradient id="gr1" x1="0" x2="1" y1="0" y2="0"><stop offset="0" stop-color="#c3c3c3"/><stop offset="0.55" stop-color="#c9c9c9"/><stop offset="1" stop-color="#d3d3d3"/></linearGradient></defs>
<rect x="582.5" y="339.2" width="80.5" height="15.3" fill="url(#gr1)" filter="url(#bl2)"/>
<rect x="583.8" y="356.2" width="77.2" height="19.6" fill="#ececec" filter="url(#bl2)"/>
<g filter="url(#bl)" fill="none" stroke-linecap="round">
<path d="M588 344.7 C589.5 346.5 592 346.9 597 346.9 L610 346.9 C614.5 346.9 617 346.6 618.2 345.2" stroke="#333" stroke-width="1.5"/>
<path d="M628.5 347.4 Q644 346.8 657.5 347" stroke="#a4a4a4" stroke-width="2.4"/>
<path d="M588.2 364.6 C589.5 366.8 593 367.4 598 367.4 L611 367.4 C616 367.4 619 367 620.4 364.9" stroke="#444" stroke-width="2.3"/>
<path d="M627 365.3 C628.5 367.2 632 367.7 637 367.7 L649 367.7 C654 367.7 657 367.4 658.4 365.5" stroke="#444" stroke-width="2.1"/>
</g>
<text x="535.5" y="349" font-size="9.3">CXCR2</text>
<text x="539" y="368.9" font-size="9.6"><tspan font-family='"Liberation Serif", "Times New Roman", serif' font-size="10.5">β</tspan>-actin</text>
<line x1="569.4" y1="384.05" x2="569.4" y2="584.75" stroke="#2e2e2e" stroke-width="1.15"/>
<line x1="565" y1="584.2" x2="569.4" y2="584.2" stroke="#2e2e2e" stroke-width="1.15"/>
<text x="558.7" y="588.6" font-size="9.3" text-anchor="end">0</text>
<line x1="565" y1="519.4" x2="569.4" y2="519.4" stroke="#2e2e2e" stroke-width="1.15"/>
<text x="558.7" y="522.3" font-size="9.3" text-anchor="end">0.1</text>
<line x1="565" y1="451.55" x2="569.4" y2="451.55" stroke="#2e2e2e" stroke-width="1.15"/>
<text x="558.7" y="455.65" font-size="9.3" text-anchor="end">0.2</text>
<line x1="565" y1="384.6" x2="569.4" y2="384.6" stroke="#2e2e2e" stroke-width="1.15"/>
<text x="558.7" y="388.2" font-size="9.3" text-anchor="end">0.3</text>
<rect x="596.7" y="398.3" width="19.6" height="185.8" fill="#fff" stroke="#1c1c1c" stroke-width="1"/>
<rect x="632.4" y="501.5" width="20" height="82.7" fill="#fff" stroke="#1c1c1c" stroke-width="1"/>
<line x1="606.4" y1="398.4" x2="606.4" y2="391.4" stroke="#1c1c1c" stroke-width="1"/>
<line x1="604.4" y1="391.4" x2="608.4" y2="391.4" stroke="#1c1c1c" stroke-width="1"/>
<line x1="642.4" y1="501.5" x2="642.4" y2="486.4" stroke="#1c1c1c" stroke-width="1"/>
<line x1="640.4" y1="486.4" x2="644.4" y2="486.4" stroke="#1c1c1c" stroke-width="1"/>
<text x="635.8" y="484.5" font-size="14" font-weight="bold" font-family='"Liberation Serif", "Times New Roman", serif' fill="#3c3c3c" style="stroke:none" letter-spacing="0.1">**</text>
<text x="605" y="605" font-size="9.3" text-anchor="middle">Ctrl-</text>
<text x="605" y="615.7" font-size="9.3" text-anchor="middle">shRNA</text>
<text x="642.3" y="605" font-size="9.3" text-anchor="middle" font-style="italic">Cxcr2-</text>
<text x="642.3" y="615.7" font-size="9.3" text-anchor="middle">shRNA</text>
<text font-size="11" transform="translate(527.2 541.3) rotate(-90)" textLength="107.4" lengthAdjust="spacing">Relative protein levels</text>
<text font-size="11" transform="translate(541 533.6) rotate(-90)" textLength="93.6" lengthAdjust="spacing">( CXCR2 / <tspan font-family='"Liberation Serif", "Times New Roman", serif' font-size="11.5">β</tspan>-actin )</text>
<text x="7" y="656" font-size="13.6" font-weight="bold" fill="#111" style="stroke:#111;stroke-width:.4px">f</text>
<line x1="54.8" y1="692.85" x2="54.8" y2="893.85" stroke="#2e2e2e" stroke-width="1.15"/>
<line x1="50.2" y1="893.3" x2="54.8" y2="893.3" stroke="#2e2e2e" stroke-width="1.15"/>
<text x="44.5" y="897.3" font-size="9.3" text-anchor="end">0</text>
<line x1="51" y1="828" x2="54.8" y2="828" stroke="#2e2e2e" stroke-width="1.15"/>
<text x="44.5" y="831.4" font-size="9.3" text-anchor="end">0.5</text>
<line x1="51" y1="760.1" x2="54.8" y2="760.1" stroke="#2e2e2e" stroke-width="1.15"/>
<text x="44.5" y="764.5" font-size="9.3" text-anchor="end">1.0</text>
<line x1="51" y1="693.4" x2="54.8" y2="693.4" stroke="#2e2e2e" stroke-width="1.15"/>
<text x="44.5" y="697.1" font-size="9.3" text-anchor="end">1.5</text>
<rect x="66.4" y="746.2" width="19.3" height="147.1" fill="#fff" stroke="#1c1c1c" stroke-width="1.1"/>
<rect x="99.5" y="826" width="19.2" height="67.3" fill="#fff" stroke="#1c1c1c" stroke-width="1.1"/>
<line x1="75.8" y1="746" x2="75.8" y2="735.4" stroke="#1c1c1c" stroke-width="1"/>
<line x1="73.9" y1="735.4" x2="77.7" y2="735.4" stroke="#1c1c1c" stroke-width="1"/>
<line x1="109.1" y1="826" x2="109.1" y2="813.9" stroke="#1c1c1c" stroke-width="1"/>
<line x1="107.2" y1="813.9" x2="111" y2="813.9" stroke="#1c1c1c" stroke-width="1"/>
<text x="105.6" y="812.8" font-size="14" font-weight="bold" font-family='"Liberation Serif", "Times New Roman", serif' fill="#3c3c3c" style="stroke:none" letter-spacing="0.1">*</text>
<text x="74.2" y="914.3" font-size="9.3" text-anchor="middle">Ctrl-</text>
<text x="74.2" y="925" font-size="9.3" text-anchor="middle">shRNA</text>
<text x="108.5" y="914.3" font-size="9.3" text-anchor="middle" font-style="italic">Cxcr2-</text>
<text x="108.5" y="925" font-size="9.3" text-anchor="middle">shRNA</text>
<text font-size="11" transform="translate(19.1 878.4) rotate(-90)" textLength="169" lengthAdjust="spacing">Relative MOR mRNA levels ( RQ )</text>
<text x="131.8" y="654" font-size="13.6" font-weight="bold" fill="#111" style="stroke:#111;stroke-width:.4px">g</text>
<line x1="177.3" y1="669.05" x2="177.3" y2="896.8" stroke="#2e2e2e" stroke-width="1.15"/>
<line x1="172.9" y1="893.6" x2="177.3" y2="893.6" stroke="#2e2e2e" stroke-width="1.15"/>
<text x="169.5" y="896.5" font-size="9.3" text-anchor="end">0.01</text>
<line x1="174.2" y1="876.74" x2="177.3" y2="876.74" stroke="#2e2e2e" stroke-width="0.9"/>
<line x1="174.2" y1="866.88" x2="177.3" y2="866.88" stroke="#2e2e2e" stroke-width="0.9"/>
<line x1="174.2" y1="859.88" x2="177.3" y2="859.88" stroke="#2e2e2e" stroke-width="0.9"/>
<line x1="174.2" y1="854.46" x2="177.3" y2="854.46" stroke="#2e2e2e" stroke-width="0.9"/>
<line x1="174.2" y1="850.02" x2="177.3" y2="850.02" stroke="#2e2e2e" stroke-width="0.9"/>
<line x1="174.2" y1="846.27" x2="177.3" y2="846.27" stroke="#2e2e2e" stroke-width="0.9"/>
<line x1="174.2" y1="843.03" x2="177.3" y2="843.03" stroke="#2e2e2e" stroke-width="0.9"/>
<line x1="174.2" y1="840.16" x2="177.3" y2="840.16" stroke="#2e2e2e" stroke-width="0.9"/>
<line x1="172.9" y1="837.6" x2="177.3" y2="837.6" stroke="#2e2e2e" stroke-width="1.15"/>
<text x="169.5" y="840.5" font-size="9.3" text-anchor="end">0.1</text>
<line x1="174.2" y1="820.74" x2="177.3" y2="820.74" stroke="#2e2e2e" stroke-width="0.9"/>
<line x1="174.2" y1="810.88" x2="177.3" y2="810.88" stroke="#2e2e2e" stroke-width="0.9"/>
<line x1="174.2" y1="803.88" x2="177.3" y2="803.88" stroke="#2e2e2e" stroke-width="0.9"/>
<line x1="174.2" y1="798.46" x2="177.3" y2="798.46" stroke="#2e2e2e" stroke-width="0.9"/>
<line x1="174.2" y1="794.02" x2="177.3" y2="794.02" stroke="#2e2e2e" stroke-width="0.9"/>
<line x1="174.2" y1="790.27" x2="177.3" y2="790.27" stroke="#2e2e2e" stroke-width="0.9"/>
<line x1="174.2" y1="787.03" x2="177.3" y2="787.03" stroke="#2e2e2e" stroke-width="0.9"/>
<line x1="174.2" y1="784.16" x2="177.3" y2="784.16" stroke="#2e2e2e" stroke-width="0.9"/>
<line x1="172.9" y1="781.6" x2="177.3" y2="781.6" stroke="#2e2e2e" stroke-width="1.15"/>
<text x="169.5" y="784.5" font-size="9.3" text-anchor="end">1</text>
<line x1="174.2" y1="764.74" x2="177.3" y2="764.74" stroke="#2e2e2e" stroke-width="0.9"/>
<line x1="174.2" y1="754.88" x2="177.3" y2="754.88" stroke="#2e2e2e" stroke-width="0.9"/>
<line x1="174.2" y1="747.88" x2="177.3" y2="747.88" stroke="#2e2e2e" stroke-width="0.9"/>
<line x1="174.2" y1="742.46" x2="177.3" y2="742.46" stroke="#2e2e2e" stroke-width="0.9"/>
<line x1="174.2" y1="738.02" x2="177.3" y2="738.02" stroke="#2e2e2e" stroke-width="0.9"/>
<line x1="174.2" y1="734.27" x2="177.3" y2="734.27" stroke="#2e2e2e" stroke-width="0.9"/>
<line x1="174.2" y1="731.03" x2="177.3" y2="731.03" stroke="#2e2e2e" stroke-width="0.9"/>
<line x1="174.2" y1="728.16" x2="177.3" y2="728.16" stroke="#2e2e2e" stroke-width="0.9"/>
<line x1="172.9" y1="725.6" x2="177.3" y2="725.6" stroke="#2e2e2e" stroke-width="1.15"/>
<text x="169.5" y="728.5" font-size="9.3" text-anchor="end">10</text>
<line x1="174.2" y1="708.74" x2="177.3" y2="708.74" stroke="#2e2e2e" stroke-width="0.9"/>
<line x1="174.2" y1="698.88" x2="177.3" y2="698.88" stroke="#2e2e2e" stroke-width="0.9"/>
<line x1="174.2" y1="691.88" x2="177.3" y2="691.88" stroke="#2e2e2e" stroke-width="0.9"/>
<line x1="174.2" y1="686.46" x2="177.3" y2="686.46" stroke="#2e2e2e" stroke-width="0.9"/>
<line x1="174.2" y1="682.02" x2="177.3" y2="682.02" stroke="#2e2e2e" stroke-width="0.9"/>
<line x1="174.2" y1="678.27" x2="177.3" y2="678.27" stroke="#2e2e2e" stroke-width="0.9"/>
<line x1="174.2" y1="675.03" x2="177.3" y2="675.03" stroke="#2e2e2e" stroke-width="0.9"/>
<line x1="174.2" y1="672.16" x2="177.3" y2="672.16" stroke="#2e2e2e" stroke-width="0.9"/>
<line x1="172.9" y1="669.6" x2="177.3" y2="669.6" stroke="#2e2e2e" stroke-width="1.15"/>
<text x="169.5" y="672.5" font-size="9.3" text-anchor="end">100</text>
<line x1="180.65" y1="893.6" x2="229.55" y2="893.6" stroke="#2e2e2e" stroke-width="1.15"/>
<line x1="236.65" y1="893.6" x2="437.39" y2="893.6" stroke="#2e2e2e" stroke-width="1.15"/>
<line x1="181.2" y1="893.6" x2="181.2" y2="897.2" stroke="#2e2e2e" stroke-width="1.15"/>
<line x1="229" y1="893.6" x2="229" y2="897.2" stroke="#2e2e2e" stroke-width="1.15"/>
<line x1="237.2" y1="893.6" x2="237.2" y2="896.7" stroke="#2e2e2e" stroke-width="1.0"/>
<line x1="244.33" y1="893.6" x2="244.33" y2="896.7" stroke="#2e2e2e" stroke-width="1.0"/>
<line x1="251.46" y1="893.6" x2="251.46" y2="896.7" stroke="#2e2e2e" stroke-width="1.0"/>
<line x1="258.59" y1="893.6" x2="258.59" y2="896.7" stroke="#2e2e2e" stroke-width="1.0"/>
<line x1="265.72" y1="893.6" x2="265.72" y2="896.7" stroke="#2e2e2e" stroke-width="1.0"/>
<line x1="272.85" y1="893.6" x2="272.85" y2="896.7" stroke="#2e2e2e" stroke-width="1.0"/>
<line x1="279.98" y1="893.6" x2="279.98" y2="896.7" stroke="#2e2e2e" stroke-width="1.0"/>
<line x1="287.11" y1="893.6" x2="287.11" y2="898.4" stroke="#2e2e2e" stroke-width="1.0"/>
<line x1="337.02" y1="893.6" x2="337.02" y2="898.4" stroke="#2e2e2e" stroke-width="1.15"/>
<line x1="386.93" y1="893.6" x2="386.93" y2="898.4" stroke="#2e2e2e" stroke-width="1.15"/>
<line x1="436.84" y1="893.6" x2="436.84" y2="898.4" stroke="#2e2e2e" stroke-width="1.15"/>
<text x="237.6" y="907.6" font-size="9.3" text-anchor="middle">0</text>
<text x="243.63" y="907.6" font-size="9.3" text-anchor="middle">1</text>
<text x="258.59" y="907.6" font-size="9.3" text-anchor="middle">3</text>
<text x="272.85" y="907.6" font-size="9.3" text-anchor="middle">5</text>
<text x="287.11" y="907.6" font-size="9.3" text-anchor="middle">7</text>
<text x="337.02" y="907.6" font-size="9.3" text-anchor="middle">14</text>
<text x="386.93" y="907.6" font-size="9.3" text-anchor="middle">21</text>
<text x="436.84" y="907.6" font-size="9.3" text-anchor="middle">28</text>
<text x="284.8" y="928.6" font-size="11" textLength="110.8" lengthAdjust="spacing">Time post - BMSC ( d )</text>
<text font-size="11" word-spacing="0.25" transform="translate(142 798) rotate(-90)">EF<tspan dy="5.5">50</tspan><tspan dy="-5.5"> ( g )</tspan></text>
<line x1="233.8" y1="892.4" x2="233.8" y2="883.88" stroke="#1c1c1c" stroke-width="0.9"/>
<path d="M233.8 881.6 L232.1 885.4 L235.5 885.4 Z" fill="#1c1c1c"/>
<text font-size="11" text-anchor="end" transform="translate(190.8 904.1) rotate(-43)">Baseline</text>
<text font-size="11" text-anchor="end" transform="translate(230.8 904.4) rotate(-43)">7d CCI</text>
<line x1="191.5" y1="742" x2="191.5" y2="757" stroke="#222" stroke-width="0.8"/>
<line x1="183.5" y1="745" x2="183.5" y2="761" stroke="#222" stroke-width="0.8"/>
<line x1="188.5" y1="742" x2="188.5" y2="757" stroke="#222" stroke-width="0.8"/>
<line x1="181.5" y1="746" x2="181.5" y2="763" stroke="#222" stroke-width="0.8"/>
<line x1="228.5" y1="747" x2="228.5" y2="763" stroke="#222" stroke-width="0.8"/>
<line x1="229.5" y1="752" x2="229.5" y2="766" stroke="#222" stroke-width="0.8"/>
<line x1="228.5" y1="831" x2="228.5" y2="843" stroke="#222" stroke-width="0.8"/>
<line x1="229.5" y1="829" x2="229.5" y2="840" stroke="#222" stroke-width="0.8"/>
<line x1="244.5" y1="741" x2="244.5" y2="757" stroke="#222" stroke-width="0.8"/>
<line x1="243.5" y1="755" x2="243.5" y2="843.5" stroke="#222" stroke-width="0.8"/>
<line x1="244.5" y1="841" x2="244.5" y2="851" stroke="#222" stroke-width="0.8"/>
<line x1="256.5" y1="732" x2="256.5" y2="748" stroke="#222" stroke-width="0.8"/>
<line x1="259.5" y1="746" x2="259.5" y2="760" stroke="#222" stroke-width="0.8"/>
<line x1="258.5" y1="752" x2="258.5" y2="767" stroke="#222" stroke-width="0.8"/>
<line x1="258.5" y1="832" x2="258.5" y2="845" stroke="#222" stroke-width="0.8"/>
<line x1="271.5" y1="727" x2="271.5" y2="743" stroke="#222" stroke-width="0.8"/>
<line x1="272.5" y1="737" x2="272.5" y2="753" stroke="#222" stroke-width="0.8"/>
<line x1="271.5" y1="749" x2="271.5" y2="764" stroke="#222" stroke-width="0.8"/>
<line x1="272.5" y1="831" x2="272.5" y2="844" stroke="#222" stroke-width="0.8"/>
<line x1="286.5" y1="725" x2="286.5" y2="740" stroke="#222" stroke-width="0.8"/>
<line x1="286.5" y1="748" x2="286.5" y2="763" stroke="#222" stroke-width="0.8"/>
<line x1="286.5" y1="745" x2="286.5" y2="760" stroke="#222" stroke-width="0.8"/>
<line x1="286.5" y1="846" x2="286.5" y2="855" stroke="#222" stroke-width="0.8"/>
<line x1="336.5" y1="722" x2="336.5" y2="738" stroke="#222" stroke-width="0.8"/>
<line x1="337.5" y1="749" x2="337.5" y2="766" stroke="#222" stroke-width="0.8"/>
<line x1="336.5" y1="730" x2="336.5" y2="746" stroke="#222" stroke-width="0.8"/>
<line x1="337.5" y1="847" x2="337.5" y2="855" stroke="#222" stroke-width="0.8"/>
<line x1="386.5" y1="720" x2="386.5" y2="736" stroke="#222" stroke-width="0.8"/>
<line x1="387.5" y1="749" x2="387.5" y2="766" stroke="#222" stroke-width="0.8"/>
<line x1="387.5" y1="727" x2="387.5" y2="745" stroke="#222" stroke-width="0.8"/>
<line x1="387.5" y1="848" x2="387.5" y2="855" stroke="#222" stroke-width="0.8"/>
<line x1="436.5" y1="720" x2="436.5" y2="736" stroke="#222" stroke-width="0.8"/>
<line x1="437.5" y1="747" x2="437.5" y2="764" stroke="#222" stroke-width="0.8"/>
<line x1="438.5" y1="726" x2="438.5" y2="744" stroke="#222" stroke-width="0.8"/>
<line x1="437.5" y1="850" x2="437.5" y2="859" stroke="#222" stroke-width="0.8"/>
<polyline points="191.5,749 229.9,759.3" fill="none" stroke="#1c1c1c" stroke-width="0.9" stroke-dasharray="3.6 2.1"/>
<polyline points="229.9,759.3 244.3,749 256.4,739.5 271.4,734.8 286.8,732.3 337,730 386.5,728.2 436.7,728.2" fill="none" stroke="#1c1c1c" stroke-width="0.9"/>
<polyline points="184.3,752.6 228.5,755.1" fill="none" stroke="#1c1c1c" stroke-width="0.9" stroke-dasharray="3.6 2.1"/>
<polyline points="228.5,755.1 242.8,755.1 259.3,752.8 273,744.7 286.8,755.1 337.5,757.7 387.2,757.2 437.7,755.5" fill="none" stroke="#1c1c1c" stroke-width="0.9"/>
<polyline points="189.1,749 229.9,833.9 244.3,783" fill="none" stroke="#1c1c1c" stroke-width="0.9" stroke-dasharray="3.6 2.1"/>
<polyline points="244.3,783 258,759.3 271.4,756.6 285.9,752.3 336.5,738.2 387.2,734.7 438.2,734.2" fill="none" stroke="#1c1c1c" stroke-width="0.9"/>
<polyline points="181.5,754.7 228.5,837.6 244.7,845.2" fill="none" stroke="#1c1c1c" stroke-width="0.9" stroke-dasharray="3.6 2.1"/>
<polyline points="244.7,845.2 258.3,838 273,838 287.2,850 337.2,850.7 387.2,851.5 437.2,854.7" fill="none" stroke="#1c1c1c" stroke-width="0.9"/>
<circle cx="181.5" cy="754.7" r="3.6999999999999997" fill="#111"/>
<circle cx="228.5" cy="837.6" r="3.6999999999999997" fill="#111"/>
<circle cx="244.7" cy="845.2" r="3.6999999999999997" fill="#111"/>
<circle cx="258.3" cy="838" r="3.6999999999999997" fill="#111"/>
<circle cx="273" cy="838" r="3.6999999999999997" fill="#111"/>
<circle cx="287.2" cy="850" r="3.6999999999999997" fill="#111"/>
<circle cx="337.2" cy="850.7" r="3.6999999999999997" fill="#111"/>
<circle cx="387.2" cy="851.5" r="3.6999999999999997" fill="#111"/>
<circle cx="437.2" cy="854.7" r="3.6999999999999997" fill="#111"/>
<rect x="188.6" y="746.1" width="5.800000000000001" height="5.800000000000001" fill="#fff" stroke="#1c1c1c" stroke-width="0.9"/>
<rect x="227" y="756.4" width="5.800000000000001" height="5.800000000000001" fill="#fff" stroke="#1c1c1c" stroke-width="0.9"/>
<rect x="241.4" y="746.1" width="5.800000000000001" height="5.800000000000001" fill="#fff" stroke="#1c1c1c" stroke-width="0.9"/>
<rect x="253.5" y="736.6" width="5.800000000000001" height="5.800000000000001" fill="#fff" stroke="#1c1c1c" stroke-width="0.9"/>
<rect x="268.5" y="731.9" width="5.800000000000001" height="5.800000000000001" fill="#fff" stroke="#1c1c1c" stroke-width="0.9"/>
<rect x="283.9" y="729.4" width="5.800000000000001" height="5.800000000000001" fill="#fff" stroke="#1c1c1c" stroke-width="0.9"/>
<rect x="334.1" y="727.1" width="5.800000000000001" height="5.800000000000001" fill="#fff" stroke="#1c1c1c" stroke-width="0.9"/>
<rect x="383.6" y="725.3" width="5.800000000000001" height="5.800000000000001" fill="#fff" stroke="#1c1c1c" stroke-width="0.9"/>
<rect x="433.8" y="725.3" width="5.800000000000001" height="5.800000000000001" fill="#fff" stroke="#1c1c1c" stroke-width="0.9"/>
<circle cx="184.3" cy="752.6" r="3.4" fill="#fff" stroke="#1c1c1c" stroke-width="0.9"/>
<circle cx="228.5" cy="755.1" r="3.4" fill="#fff" stroke="#1c1c1c" stroke-width="0.9"/>
<circle cx="242.8" cy="755.1" r="3.4" fill="#fff" stroke="#1c1c1c" stroke-width="0.9"/>
<circle cx="259.3" cy="752.8" r="3.4" fill="#fff" stroke="#1c1c1c" stroke-width="0.9"/>
<circle cx="273" cy="744.7" r="3.4" fill="#fff" stroke="#1c1c1c" stroke-width="0.9"/>
<circle cx="286.8" cy="755.1" r="3.4" fill="#fff" stroke="#1c1c1c" stroke-width="0.9"/>
<circle cx="337.5" cy="757.7" r="3.4" fill="#fff" stroke="#1c1c1c" stroke-width="0.9"/>
<circle cx="387.2" cy="757.2" r="3.4" fill="#fff" stroke="#1c1c1c" stroke-width="0.9"/>
<circle cx="437.7" cy="755.5" r="3.4" fill="#fff" stroke="#1c1c1c" stroke-width="0.9"/>
<rect x="185.9" y="745.8" width="6.4" height="6.4" fill="#111"/>
<rect x="226.7" y="830.7" width="6.4" height="6.4" fill="#111"/>
<rect x="241.1" y="779.8" width="6.4" height="6.4" fill="#111"/>
<rect x="254.8" y="756.1" width="6.4" height="6.4" fill="#111"/>
<rect x="268.2" y="753.4" width="6.4" height="6.4" fill="#111"/>
<rect x="282.7" y="749.1" width="6.4" height="6.4" fill="#111"/>
<rect x="333.3" y="735" width="6.4" height="6.4" fill="#111"/>
<rect x="384" y="731.5" width="6.4" height="6.4" fill="#111"/>
<rect x="435" y="731" width="6.4" height="6.4" fill="#111"/>
<text x="238" y="864.6" font-size="14" font-weight="bold" font-family='"Liberation Serif", "Times New Roman", serif' fill="#3c3c3c" style="stroke:none" letter-spacing="-0.1">**</text>
<text x="251.8" y="829.9" font-size="14" font-weight="bold" font-family='"Liberation Serif", "Times New Roman", serif' fill="#3c3c3c" style="stroke:none" letter-spacing="-0.1">**</text>
<text x="269.9" y="829.9" font-size="14" font-weight="bold" font-family='"Liberation Serif", "Times New Roman", serif' fill="#3c3c3c" style="stroke:none" letter-spacing="0.1">*</text>
<text x="280.3" y="845.7" font-size="14" font-weight="bold" font-family='"Liberation Serif", "Times New Roman", serif' fill="#3c3c3c" style="stroke:none" letter-spacing="-0.1">**</text>
<text x="330.7" y="844.6" font-size="14" font-weight="bold" font-family='"Liberation Serif", "Times New Roman", serif' fill="#3c3c3c" style="stroke:none" letter-spacing="-0.3">**</text>
<text x="377.2" y="846.1" font-size="14" font-weight="bold" font-family='"Liberation Serif", "Times New Roman", serif' fill="#3c3c3c" style="stroke:none" letter-spacing="-0.3">***</text>
<text x="427" y="848.5" font-size="14" font-weight="bold" font-family='"Liberation Serif", "Times New Roman", serif' fill="#3c3c3c" style="stroke:none" letter-spacing="-0.3">***</text>
<rect x="323.7" y="670.5" width="113.8" height="45.7" fill="#fff" stroke="#2e2e2e" stroke-width="1.1"/>
<text x="329.5" y="680.8" font-size="9.3">Ipsi</text>
<text x="355" y="680.8" font-size="9.3">Con</text>
<line x1="331.2" y1="695" x2="343.8" y2="695" stroke="#1c1c1c" stroke-width="0.9"/>
<line x1="357.9" y1="695" x2="370.5" y2="695" stroke="#1c1c1c" stroke-width="0.9"/>
<circle cx="337.5" cy="695" r="3.5999999999999996" fill="#111"/>
<circle cx="364.2" cy="695" r="3.3" fill="#fff" stroke="#1c1c1c" stroke-width="0.9"/>
<text x="380.7" y="698.3" font-size="9.3">CXCR2-KO</text>
<line x1="331.2" y1="707.5" x2="343.8" y2="707.5" stroke="#1c1c1c" stroke-width="0.9"/>
<line x1="357.9" y1="707.5" x2="370.5" y2="707.5" stroke="#1c1c1c" stroke-width="0.9"/>
<rect x="334.4" y="704.4" width="6.2" height="6.2" fill="#111"/>
<rect x="361.4" y="704.7" width="5.6000000000000005" height="5.6000000000000005" fill="#fff" stroke="#1c1c1c" stroke-width="0.9"/>
<text x="380.7" y="710.8" font-size="9.3">CXCR2-Wt</text>
<rect x="459.6" y="640.5" width="223.6" height="289.8" fill="none" stroke="#6e6e6e" stroke-width="1.1"/>
<text x="461.6" y="653.4" font-size="13.8" font-weight="bold" fill="#111" style="stroke:#111;stroke-width:.4px">h</text>
<rect x="553.1" y="648.2" width="39" height="12.2" fill="#fff" stroke="#2a2a2a" stroke-width="1"/>
<text x="572.5" y="657.7" font-size="9.6" text-anchor="middle">BMSC</text>
<rect x="508.7" y="683" width="127.6" height="14.3" fill="#fff" stroke="#2a2a2a" stroke-width="1"/>
<text x="572.5" y="692.6" font-size="9.6" text-anchor="middle">Chemotactic mediators</text>
<rect x="508.7" y="720" width="127.8" height="25" fill="#fff" stroke="#2a2a2a" stroke-width="1"/>
<text x="572.5" y="729.3" font-size="9.6" text-anchor="middle">Immune cells,</text>
<text x="572.5" y="740.3" font-size="9.6" text-anchor="middle">(Monocytes/Macrophases)</text>
<rect x="528.3" y="767" width="89.5" height="25.7" fill="#fff" stroke="#2a2a2a" stroke-width="1"/>
<text x="573" y="776.6" font-size="9.6" text-anchor="middle">Immune mediators</text>
<text x="573" y="787.8" font-size="9.6" text-anchor="middle">(CXCL1)</text>
<rect x="467.8" y="814.6" width="100.7" height="25.2" fill="#fff" stroke="#2a2a2a" stroke-width="1"/>
<text x="518" y="823.7" font-size="9.6" text-anchor="middle">CNS Targets:</text>
<text x="518" y="834.8" font-size="9.6" text-anchor="middle">RVM, CXCR2</text>
<rect x="575.2" y="814.6" width="102.1" height="25.2" fill="#fff" stroke="#2a2a2a" stroke-width="1"/>
<text x="626.3" y="823.7" font-size="9.6" text-anchor="middle">PNS</text>
<text x="626.3" y="834.8" font-size="9.6" text-anchor="middle">Immune cells</text>
<rect x="528.9" y="860.6" width="89" height="26.8" fill="#fff" stroke="#2a2a2a" stroke-width="1"/>
<text x="573" y="871" font-size="9.6" text-anchor="middle">Endogenous</text>
<text x="573" y="882" font-size="9.6" text-anchor="middle">Opioids</text>
<rect x="545" y="909.2" width="56" height="14.3" fill="#fff" stroke="#2a2a2a" stroke-width="1"/>
<text x="573" y="918.8" font-size="9.6" text-anchor="middle">Pain Relief</text>
<line x1="572.1" y1="661.9" x2="572.1" y2="673.8" stroke="#111" stroke-width="2.1"/>
<path d="M572.1 681.3 L567.5 669.6 Q569.8 672.1 571.05 673.7 L573.15 673.7 Q574.4 672.1 576.7 669.6 Z" fill="#111"/>
<line x1="572.1" y1="698.6" x2="572.1" y2="710.8" stroke="#111" stroke-width="2.1"/>
<path d="M572.1 718.3 L567.5 706.6 Q569.8 709.1 571.05 710.7 L573.15 710.7 Q574.4 709.1 576.7 706.6 Z" fill="#111"/>
<line x1="572.1" y1="746.3" x2="572.1" y2="757.8" stroke="#111" stroke-width="2.1"/>
<path d="M572.1 765.3 L567.5 753.6 Q569.8 756.1 571.05 757.7 L573.15 757.7 Q574.4 756.1 576.7 753.6 Z" fill="#111"/>
<line x1="550" y1="794" x2="550" y2="805.4" stroke="#111" stroke-width="2.1"/>
<path d="M550 812.9 L545.4 801.2 Q547.7 803.7 548.95 805.3 L551.05 805.3 Q552.3 803.7 554.6 801.2 Z" fill="#111"/>
<line x1="594" y1="794" x2="594" y2="805.4" stroke="#111" stroke-width="2.1"/>
<path d="M594 812.9 L589.4 801.2 Q591.7 803.7 592.95 805.3 L595.05 805.3 Q596.3 803.7 598.6 801.2 Z" fill="#111"/>
<line x1="550" y1="841.1" x2="550" y2="851.4" stroke="#111" stroke-width="2.1"/>
<path d="M550 858.9 L545.4 847.2 Q547.7 849.7 548.95 851.3 L551.05 851.3 Q552.3 849.7 554.6 847.2 Z" fill="#111"/>
<line x1="594" y1="841.1" x2="594" y2="851.4" stroke="#111" stroke-width="2.1"/>
<path d="M594 858.9 L589.4 847.2 Q591.7 849.7 592.95 851.3 L595.05 851.3 Q596.3 849.7 598.6 847.2 Z" fill="#111"/>
<line x1="571.9" y1="888.7" x2="571.9" y2="899.9" stroke="#111" stroke-width="2.1"/>
<path d="M571.9 907.4 L567.3 895.7 Q569.6 898.2 570.85 899.8 L572.95 899.8 Q574.2 898.2 576.5 895.7 Z" fill="#111"/>
<text x="488.4" y="657" font-size="9.6" font-style="italic">Autocrine</text>
<path d="M549.4 661.4 C539.5 661 531 659.5 531 654.2 C531 650 537 647.7 544 647.9" fill="none" stroke="#111" stroke-width="1.05"/>
<path d="M548 648 L540.6 651.7 L542.67 648 L540.6 644.3 Z" fill="#111"/>
<path d="M622.5 676 C632 674 638.6 670.5 638.6 665.6 C638.6 659 622 654.5 602 654.2" fill="none" stroke="#111" stroke-width="1.05"/>
<path d="M598.2 654.2 L605.66 650.63 L603.53 654.29 L605.53 658.03 Z" fill="#111"/>
<path d="M644.2 731.7 C657 731 668.4 723 668.4 711.3 C668.4 701 660 695 649.5 693.3" fill="none" stroke="#111" stroke-width="1.05"/>
<path d="M644.9 692.8 L652.65 689.89 L650.2 693.36 L651.87 697.25 Z" fill="#111"/>
</svg>
</body></html>
